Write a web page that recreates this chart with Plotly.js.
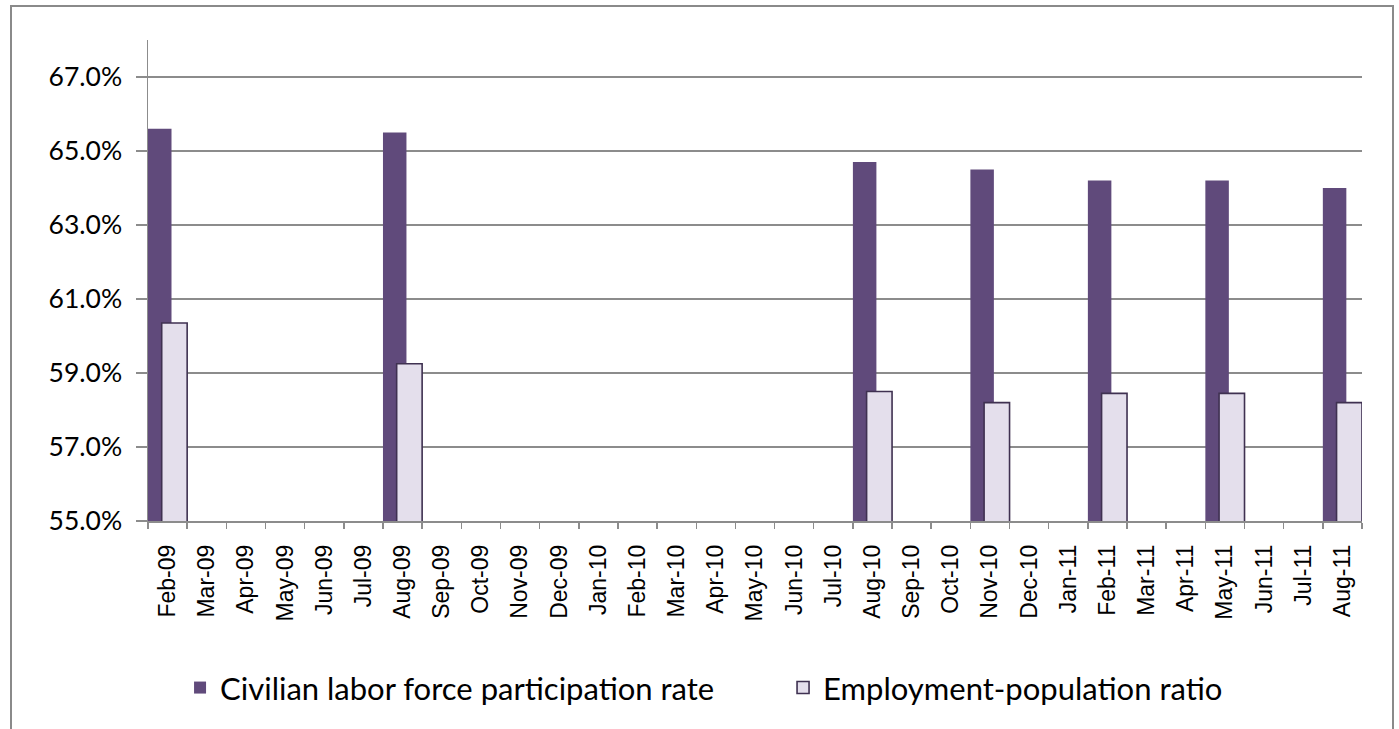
<!DOCTYPE html>
<html>
<head>
<meta charset="utf-8">
<script src="https://cdn.plot.ly/plotly-3.0.1.min.js"></script>
<style>
  html, body { margin: 0; padding: 0; width: 1399px; height: 729px; overflow: hidden; background: #fff; }
  #frame { position: absolute; left: 10px; top: 5px; width: 1384px; height: 800px; border: 2px solid #8a8a8a; box-sizing: border-box; }
  #chart { position: absolute; left: 0; top: 0; width: 1399px; height: 729px; }
</style>
</head>
<body>
<div id="frame"></div>
<div id="chart"></div>
<script>
const months = ['Feb-09','Mar-09','Apr-09','May-09','Jun-09','Jul-09','Aug-09','Sep-09','Oct-09','Nov-09','Dec-09',
  'Jan-10','Feb-10','Mar-10','Apr-10','May-10','Jun-10','Jul-10','Aug-10','Sep-10','Oct-10','Nov-10','Dec-10',
  'Jan-11','Feb-11','Mar-11','Apr-11','May-11','Jun-11','Jul-11','Aug-11'];
const laborForceRate = [65.6,null,null,null,null,null,65.5,null,null,null,null,
  null,null,null,null,null,null,null,64.7,null,null,64.5,null,
  null,64.2,null,null,64.2,null,null,64.0];
const employmentPopRatio = [60.35,null,null,null,null,null,59.25,null,null,null,null,
  null,null,null,null,null,null,null,58.5,null,null,58.2,null,
  null,58.45,null,null,58.45,null,null,58.2];
const seriesNames = ['Civilian labor force participation rate', 'Employment-population ratio'];

const gridColor = '#8c8c8c';
const traces = [
  {
    type: 'bar', name: seriesNames[0], x: months, y: laborForceRate,
    offset: -0.5, width: 0.6,
    marker: { color: '#604A7B', line: { width: 0 } },
    hoverinfo: 'x+y'
  },
  {
    type: 'bar', name: seriesNames[1], x: months, y: employmentPopRatio,
    offset: -0.15, width: 0.65,
    marker: { color: '#E4DFEC', line: { color: '#3F3151', width: 1.6 } },
    hoverinfo: 'x+y'
  }
];

const layout = {
  width: 1399, height: 729,
  paper_bgcolor: 'rgba(0,0,0,0)', plot_bgcolor: 'rgba(0,0,0,0)',
  margin: { l: 148, r: 37, t: 40, b: 208, pad: 0 },
  barmode: 'overlay',
  showlegend: true,
  font: { family: 'Lato, "Open Sans", sans-serif', color: '#000' },
  xaxis: {
    type: 'category', range: [-0.5, 30.5],
    tickangle: -90, tickson: 'boundaries',
    ticks: 'outside', ticklen: 6, tickwidth: 1.5, tickcolor: gridColor,
    showline: true, linecolor: gridColor, linewidth: 1.5,
    showgrid: false, zeroline: false,
    tickfont: { family: '"Liberation Sans", Arial, sans-serif', size: 23, color: '#000' },
    ticklabelstandoff: 13
  },
  yaxis: {
    range: [55, 68], tick0: 55, dtick: 2,
    tickformat: '.1f', ticksuffix: '%',
    ticks: 'outside', ticklen: 11, tickwidth: 1.5, tickcolor: gridColor,
    showline: true, linecolor: gridColor, linewidth: 1.5,
    showgrid: true, gridcolor: gridColor, gridwidth: 1.5,
    zeroline: false,
    tickfont: { family: 'Lato, sans-serif', size: 26.5, color: '#000' },
    ticklabelstandoff: 8
  },
  legend: {
    orientation: 'h', x: 0.0264, xanchor: 'left', y: -0.347, yanchor: 'middle',
    font: { family: 'Lato, sans-serif', size: 31, color: '#000' },
    bgcolor: 'rgba(0,0,0,0)', entrywidth: 558, entrywidthmode: 'pixels'
  }
};

Plotly.newPlot('chart', traces, layout, { displayModeBar: false, staticPlot: true });
</script>
</body>
</html>
